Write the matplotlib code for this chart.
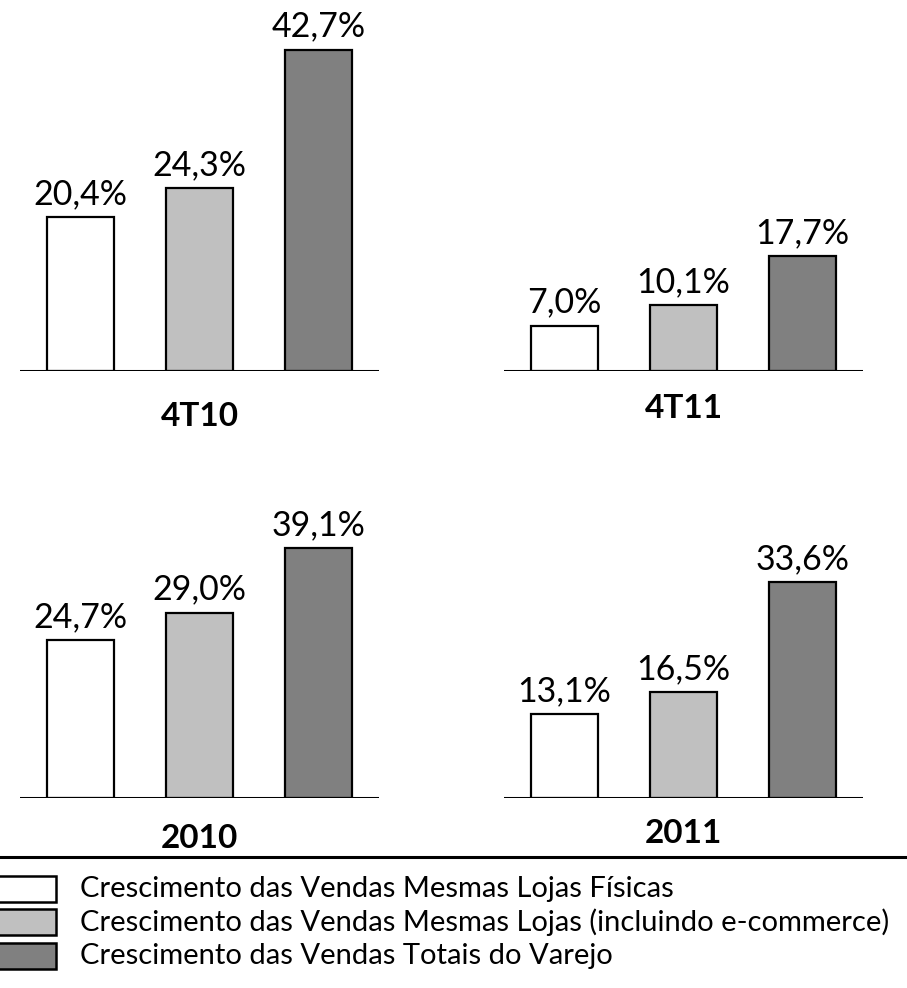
import matplotlib
matplotlib.use("Agg")
import matplotlib.pyplot as plt
from matplotlib.patches import Rectangle
from matplotlib.lines import Line2D

plt.rcParams['font.family'] = ['Lato', 'DejaVu Sans']

# ---- data ----
series = [
    "Crescimento das Vendas Mesmas Lojas Físicas",
    "Crescimento das Vendas Mesmas Lojas (incluindo e-commerce)",
    "Crescimento das Vendas Totais do Varejo",
]
panels = ["4T10", "4T11", "2010", "2011"]
v_4T10 = [20.4, 24.3, 42.7]
v_4T11 = [7.0, 10.1, 17.7]
v_2010 = [24.7, 29.0, 39.1]
v_2011 = [13.1, 16.5, 33.6]
values = [v_4T10, v_4T11, v_2010, v_2011]

# ---- style / layout ----
colors = ["#FFFFFF", "#C0C0C0", "#808080"]
W, H = 907, 988
# axes rectangles in pixels: (left, baseline_y, width, height)
rects = [(20, 371, 359, 371), (504, 371, 359, 371),
         (20, 798, 359, 360), (504, 798, 359, 360)]
axis_max = [49.3, 57.1, 56.3, 56.0]
cat_label_y = [416, 408, 838, 833]

fig = plt.figure(figsize=(W / 100, H / 100), dpi=100)

for i, (name, vals) in enumerate(zip(panels, values)):
    l, b, w, h = rects[i]
    ax = fig.add_axes([l / W, 1 - b / H, w / W, h / H])
    ax.bar(range(3), vals, width=0.565, color=colors, edgecolor="black",
           linewidth=1.6, zorder=2)
    ax.set_xlim(-0.51, 2.51)
    ax.set_ylim(0, axis_max[i])
    ax.axhline(0, color="black", linewidth=2.2, zorder=3)
    for s in ax.spines.values():
        s.set_visible(False)
    ax.set_xticks([])
    ax.set_yticks([])
    ax.patch.set_alpha(0)
    for x, v in enumerate(vals):
        ax.annotate(f"{v:.1f}%".replace(".", ","), (x, v),
                    xytext=(0, 5), textcoords="offset points",
                    ha="center", va="bottom", fontsize=24.5)
    fig.text((l + w / 2) / W, 1 - cat_label_y[i] / H, name,
             ha="center", va="center", fontsize=24, fontweight="bold")

# separator line
fig.add_artist(Line2D([0, 1], [1 - 857 / H, 1 - 857 / H], color="black",
                      linewidth=2.2, transform=fig.transFigure))

# legend
leg_y = [889, 922, 956]
for c, lab, y in zip(colors, series, leg_y):
    fig.add_artist(Rectangle((-2 / W, 1 - (y + 13) / H), 58 / W, 26 / H,
                             facecolor=c, edgecolor="black", linewidth=1.8,
                             transform=fig.transFigure))
    fig.text(80 / W, 1 - y / H, lab, ha="left", va="center", fontsize=21)

fig.savefig("out.png", dpi=100)
